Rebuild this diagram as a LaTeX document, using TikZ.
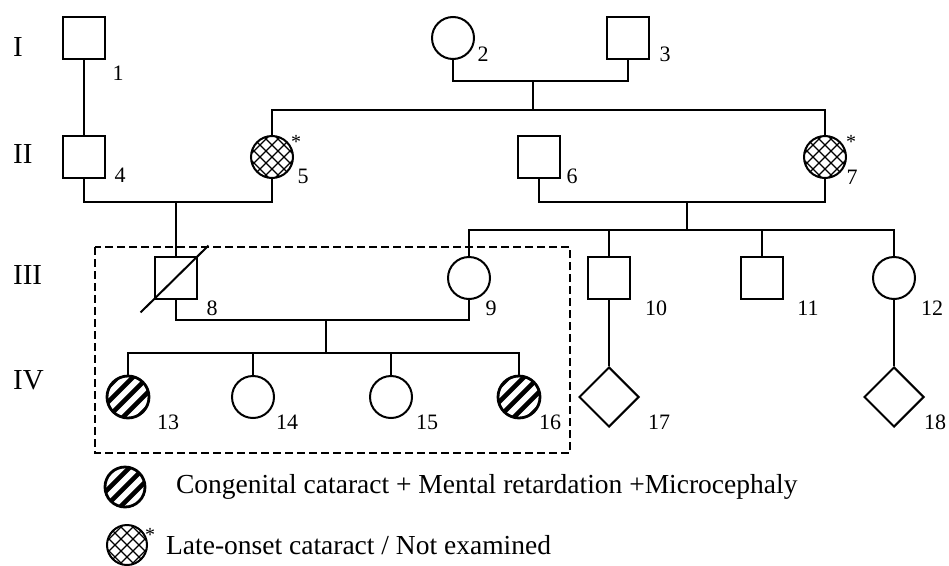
\documentclass[tikz,border=0pt]{standalone}
\usepackage{fontspec}
\setmainfont{Liberation Serif}
\usetikzlibrary{shapes.geometric, positioning, calc}

\begin{document}
\begin{tikzpicture}[
  x=1pt, y=-1pt,
  line width=2.3pt,
  male/.style={draw, rectangle, line width=2.8pt, minimum size=42pt, inner sep=0pt},
  female/.style={draw, circle, line width=2pt, minimum size=42pt, inner sep=0pt},
  unknown/.style={draw, diamond, line width=2pt, minimum size=60pt, inner sep=0pt},
  stripes/.style={line width=2.8pt, path picture={
      \foreach \d in {-60,-45,...,60}
        \draw[line width=4.6pt, shift={(path picture bounding box.center)}] (\d-30,30) -- (\d+30,-30);}},
  cross/.style={path picture={
      \foreach \d in {-60,-48,...,60} {
        \draw[line width=1.1pt, shift={(path picture bounding box.center)}] (\d-30,30) -- (\d+30,-30);
        \draw[line width=1.1pt, shift={(path picture bounding box.center)}] (\d-30,-30) -- (\d+30,30);}}},
  num/.style={font=\fontsize{22}{22}\selectfont, inner sep=0pt},
  gen/.style={font=\fontsize{29}{29}\selectfont, inner sep=0pt, anchor=west},
  star/.style={font=\fontsize{20}{20}\selectfont, inner sep=0pt},
  legend/.style={font=\fontsize{27.5}{27.5}\selectfont, inner sep=0pt, anchor=west},
  frame/.style={line width=2.2pt, dash pattern=on 8pt off 4pt},
]
\useasboundingbox (0,0) rectangle (949,565);

%% Generations
\node[gen] (gI)   at (12,47)  {I};
\node[gen] (gII)  at (12,154) {II};
\node[gen] (gIII) at (12,275) {III};
\node[gen] (gIV)  at (12,380) {IV};

%% Row I
\node[male]   (n1) at (84,38)  {};
\node[female] (n2) at (453,38) {};
\node[male]   (n3) at (628,38) {};

%% Row II
\node[male]          (n4) at (84,157)  {};
\node[female, cross] (n5) at (272,157) {};
\node[male]          (n6) at (539,157) {};
\node[female, cross] (n7) at (825,157) {};

%% Row III
\node[male]   (n8)  at (176,278) {};
\node[female] (n9)  at (469,278) {};
\node[male]   (n10) at (609,278) {};
\node[male]   (n11) at (762,278) {};
\node[female] (n12) at (894,278) {};

%% Row IV
\node[female, stripes] (n13) at (128,397) {};
\node[female]          (n14) at (253,397) {};
\node[female]          (n15) at (391,397) {};
\node[female, stripes] (n16) at (519,397) {};
\node[unknown]         (n17) at (609,397) {};
\node[unknown]         (n18) at (894,397) {};

%% Junctions
\coordinate (m23) at (533,81);
\coordinate (s23) at (533,110);
\coordinate (m45) at (176,202);
\coordinate (m67) at (687,202);
\coordinate (s67) at (687,230);
\coordinate (m89) at (326,320);
\coordinate (s89) at (326,353);

%% Lines of descent
\draw (n1.south) -- (n4.north);
\draw (n2.south) |- (m23) -| (n3.south);
\draw (m23) -- (s23);
\draw (n5.north) |- (s23) -| (n7.north);
\draw (n4.south) |- (m45) -| (n5.south);
\draw (m45) -- (n8.north);
\draw (n6.south) |- (m67) -| (n7.south);
\draw (m67) -- (s67);
\draw (n9.north) |- (s67) -| (n12.north);
\draw (n10.north) -- (n10 |- s67);
\draw (n11.north) -- (n11 |- s67);
\draw (n8.south) |- (m89) -| (n9.south);
\draw (m89) -- (s89);
\draw (n13.north) |- (s89) -| (n16.north);
\draw (n14.north) -- (n14 |- s89);
\draw (n15.north) -- (n15 |- s89);
\draw (n10.south) -- (n17.north);
\draw (n12.south) -- (n18.north);

%% Deceased
\draw[line width=2pt] ([shift={(-13,12)}]n8.south west) -- ([shift={(10,-10)}]n8.north east);

%% Numbers
\foreach \i/\x/\y in {1/118/73, 2/483/54, 3/665/54, 4/120/175, 5/303/176, 6/572/176,
  7/852/177, 8/212/308, 9/491/308, 10/656/308, 11/808/308, 12/932/308,
  13/168/422, 14/287/422, 15/427/422, 16/550/422, 17/659/422, 18/935/422}
  \node[num] (lab\i) at (\x,\y) {\i};
\node[star] (st5) at (296,142) {*};
\node[star] (st7) at (851,142) {*};

%% Family box
\draw[frame] (95,247) rectangle (570,453);

%% Legend
\node[female, stripes, minimum size=40pt] (keyA) at (125,487) {};
\node[legend] (txtA) at (175,487) {Congenital cataract + Mental retardation +Microcephaly};
\node[female, cross, minimum size=40pt] (keyB) at (127,545) {};
\node[star] (stB) at (150,535) {*};
\node[legend] (txtB) at (165,545) {Late-onset cataract / Not examined};

\end{tikzpicture}
\end{document}
